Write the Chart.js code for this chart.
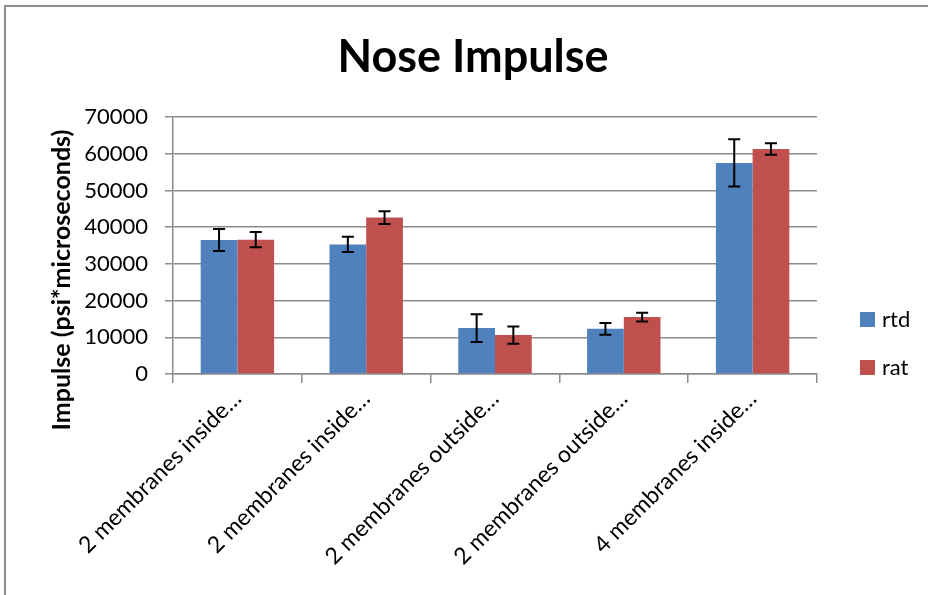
<!DOCTYPE html>
<html>
<head>
<meta charset="utf-8">
<title>Nose Impulse</title>
<script src="https://cdn.jsdelivr.net/npm/chart.js@4"></script>
<style>
  html, body { margin: 0; padding: 0; background: #fff; overflow: hidden; }
  .box { position: relative; width: 928px; height: 595px; }
  .frame { position: absolute; left: 4px; top: 5px; width: 960px; height: 620px;
           border-left: 2px solid #8c8c8c; border-top: 2px solid #8c8c8c; pointer-events: none; }
</style>
</head>
<body>
<div class="box">
  <canvas id="noseChart" width="928" height="595"></canvas>
  <div class="frame"></div>
</div>
<script>
// Data
const categories = [
    '2 membranes inside\u2026',
    '2 membranes inside\u2026',
    '2 membranes outside\u2026',
    '2 membranes outside\u2026',
    '4 membranes inside\u2026'
];
const rtdValues = [36500, 35300, 12500, 12300, 57500];
const rtdErrors = [3000, 2050, 3750, 1600, 6450];
const ratValues = [36600, 42600, 10600, 15500, 61300];
const ratErrors = [2100, 1750, 2350, 1200, 1550];
const yTicks = [0, 10000, 20000, 30000, 40000, 50000, 60000, 70000];
const yTitle = 'Impulse (psi*microseconds)';

const FONT = "Lato, 'Open Sans', sans-serif";
const GRID = '#8c8c8c';

// Error bars drawn at each bar through the y scale
const errorBars = {
    id: 'errorBars',
    afterDatasetsDraw(chart) {
        const ctx = chart.ctx;
        const y = chart.scales.y;
        chart.data.datasets.forEach((ds, i) => {
            const meta = chart.getDatasetMeta(i);
            meta.data.forEach((bar, j) => {
                const v = ds.data[j], e = ds.errors[j];
                const top = y.getPixelForValue(v + e);
                const bot = y.getPixelForValue(v - e);
                ctx.save();
                ctx.strokeStyle = '#000';
                ctx.lineWidth = 2;
                ctx.beginPath();
                ctx.moveTo(bar.x, top); ctx.lineTo(bar.x, bot);
                ctx.moveTo(bar.x - 6, top); ctx.lineTo(bar.x + 6, top);
                ctx.moveTo(bar.x - 6, bot); ctx.lineTo(bar.x + 6, bot);
                ctx.stroke();
                ctx.restore();
            });
        });
    }
};

// Excel-like legend at the right of the plot, and the y axis title
// centred on the plot area plus its category labels
const sideLegend = {
    id: 'sideLegend',
    afterDraw(chart) {
        const ctx = chart.ctx;
        const x = chart.chartArea.right + 43;
        let cy = 319;
        ctx.save();
        ctx.font = '22px ' + FONT;
        ctx.textBaseline = 'middle';
        chart.data.datasets.forEach(ds => {
            ctx.fillStyle = ds.backgroundColor;
            ctx.fillRect(x, cy - 7, 15, 15);
            ctx.fillStyle = '#000';
            ctx.fillText(ds.label, x + 22, cy + 1);
            cy += 48;
        });

        ctx.translate(62, 280);
        ctx.rotate(-Math.PI / 2);
        ctx.font = 'bold 25px ' + FONT;
        ctx.textAlign = 'center';
        ctx.fillText(yTitle, 0, 0);
        ctx.restore();
    }
};

Chart.defaults.font.family = FONT;
Chart.defaults.color = '#000';

new Chart(document.getElementById('noseChart'), {
    type: 'bar',
    data: {
        labels: categories,
        datasets: [
            { label: 'rtd', data: rtdValues, errors: rtdErrors, backgroundColor: '#4F81BD' },
            { label: 'rat', data: ratValues, errors: ratErrors, backgroundColor: '#C0504D' }
        ]
    },
    options: {
        responsive: false,
        animation: false,
        categoryPercentage: 0.57,
        barPercentage: 1.0,
        layout: { padding: { left: 18, right: 0, top: 0, bottom: 0 } },
        plugins: {
            legend: { display: false },
            tooltip: { enabled: false },
            title: {
                display: true,
                text: 'Nose Impulse',
                font: { size: 45, weight: 'bold' },
                color: '#000',
                padding: { top: 30, bottom: 33 }
            }
        },
        scales: {
            x: {
                offset: true,
                grid: { offset: true, drawOnChartArea: false, color: GRID, lineWidth: 1.5, tickLength: 9 },
                border: { color: GRID, width: 1.5 },
                ticks: { minRotation: 45, maxRotation: 45, autoSkip: false, padding: 2, font: { size: 23 } },
                afterFit(scale) { scale.height = 221; }
            },
            y: {
                min: 0,
                max: 70000,
                afterBuildTicks(scale) { scale.ticks = yTicks.map(v => ({ value: v })); },
                grid: { color: GRID, lineWidth: 1.5, tickLength: 8 },
                border: { color: GRID, width: 1.5 },
                ticks: { padding: 17, font: { size: 22 }, callback: v => String(v) },
                afterFit(scale) { scale.width = 155; }
            },
            // empty right-hand box that keeps room for the legend
            side: {
                position: 'right',
                display: true,
                grid: { display: false },
                border: { display: false },
                ticks: { display: false },
                afterFit(scale) { scale.width = 111; }
            }
        }
    },
    plugins: [errorBars, sideLegend]
});
</script>
</body>
</html>
